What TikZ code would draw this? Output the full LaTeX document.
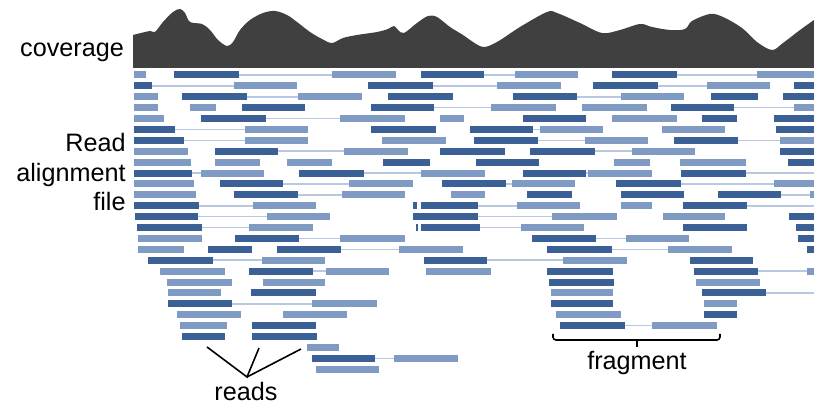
\documentclass[tikz,border=0pt]{standalone}
\usepackage{fontspec}
\setmainfont{Liberation Sans}
\definecolor{readdark}{RGB}{58,96,150}
\definecolor{readlight}{RGB}{128,155,195}
\definecolor{matecol}{RGB}{185,200,225}
\definecolor{covgray}{RGB}{64,64,64}
% one row of reads: type/start/end, row index #1
\newcommand{\readrow}[2]{%
  \foreach \c/\a/\b in {#2} {\draw[rd\c] (\a,{75+10.9*#1}) -- (\b,{75+10.9*#1});}}
\begin{document}
\begin{tikzpicture}[
    x=0.5pt, y=-0.5pt,
    rdD/.style={draw=readdark, line width=3.5pt},
    rdL/.style={draw=readlight, line width=3.5pt},
    rdM/.style={draw=matecol, line width=0.8pt},
    lbl/.style={font=\fontsize{12.6}{14.75}\selectfont, inner sep=0pt},
    pointer/.style={draw=black, line width=0.8pt},
]
\useasboundingbox[fill=white] (0,0) rectangle (814,416);

% coverage track
\fill[covgray] (133,68) -- plot[smooth, tension=0.55] coordinates {
  (133,35) (150,31) (155,32) (163,22) (173,12) (180,9) (185,13) (190,22)
  (202,24) (210,30) (218,40) (227,46) (233,42) (240,30) (250,20) (263,13)
  (275,11) (287,15) (297,22) (310,32) (322,39) (332,43) (343,38) (357,35)
  (377,32) (388,29) (394,26) (398,30) (404,33) (417,23) (428,16) (437,17)
  (450,27) (463,35) (470,40) (483,47) (497,42) (520,27) (547,12) (557,13)
  (580,23) (602,33) (620,30) (640,24) (652,27) (670,30) (685,29) (692,21)
  (710,14) (723,17) (742,28) (757,42) (772,50) (783,43) (800,30) (814,20)
} -- (814,68) -- cycle;

% read alignment rows
\readrow{0}{L/134/146, D/174/239, M/239/332, L/332/396, D/421/484, M/484/515, L/515/578, D/612/677, M/677/757, L/757/814}
\readrow{1}{D/134/152, M/152/234, L/234/297, D/368/433, M/433/497, L/497/561, D/593/658, M/658/707, L/707/770, D/794/814}
\readrow{2}{L/134/158, D/182/247, M/247/298, L/298/362, D/388/453, D/513/577, M/577/621, L/621/684, D/711/758, D/783/814}
\readrow{3}{L/134/158, L/190/216, D/242/305, D/371/434, M/434/491, L/491/556, L/582/647, D/671/734, M/734/794, L/794/814}
\readrow{4}{L/134/164, D/201/266, M/266/340, L/340/405, L/440/464, D/523/586, L/612/677, D/702/737, D/774/814}
\readrow{5}{D/134/175, M/175/245, L/245/308, D/371/436, D/470/533, M/533/540, L/540/603, L/662/725, D/776/814}
\readrow{6}{D/134/184, M/184/245, L/245/308, L/382/446, D/474/538, M/538/585, L/585/648, D/674/738, M/738/780, L/780/814}
\readrow{7}{L/134/188, D/215/278, M/278/344, L/344/408, D/440/505, D/530/595, M/595/632, L/632/695, D/780/814}
\readrow{8}{L/134/191, L/215/260, L/287/332, D/383/430, D/476/539, L/614/650, L/680/746, D/788/814}
\readrow{9}{D/134/192, M/192/201, L/201/264, D/299/364, M/364/421, L/421/485, D/523/586, M/586/588, L/588/652, D/681/746, M/746/814}
\readrow{10}{L/134/194, D/220/283, M/283/349, L/349/413, D/442/506, M/506/512, L/512/575, D/616/681, M/681/774, L/774/814}
\readrow{11}{L/134/196, D/234/298, M/298/342, L/342/405, L/451/485, D/527/572, D/621/684, D/718/781, M/781/810, L/810/814}
\readrow{12}{D/134/199, M/199/253, L/253/316, D/413/417, D/421/478, M/478/517, L/517/580, L/621/652, D/683/747, M/747/814}
\readrow{13}{D/135/198, M/198/267, L/267/330, D/413/478, M/478/552, L/552/617, L/663/725, D/789/814}
\readrow{14}{D/137/202, M/202/249, L/249/313, D/416/418, D/421/480, M/480/521, L/521/584, D/683/747, D/796/814}
\readrow{15}{L/138/202, D/235/299, M/299/340, L/340/405, D/532/596, M/596/626, L/626/689, D/798/814}
\readrow{16}{L/138/184, D/208/252, D/277/341, M/341/399, L/399/463, D/547/612, M/612/668, L/668/732, D/807/814}
\readrow{17}{D/148/213, M/213/262, L/262/325, D/424/487, M/487/563, L/563/627, D/690/753}
\readrow{18}{L/160/225, D/249/313, M/313/326, L/326/389, L/426/491, D/547/613, D/694/758, M/758/807, L/807/814}
\readrow{19}{L/167/232, L/263/325, D/549/614, L/696/760}
\readrow{20}{L/168/221, D/251/316, L/551/613, D/702/766, M/766/814}
\readrow{21}{D/168/232, M/232/312, L/312/377, D/551/613, L/704/737}
\readrow{22}{L/177/241, L/283/347, L/556/621, D/704/737}
\readrow{23}{L/180/227, D/252/316, D/560/625, M/625/652, L/652/717}
\readrow{24}{D/182/225, D/252/317}
\readrow{25}{L/307/339}
\readrow{26}{D/312/375, M/375/394, L/394/458}
\readrow{27}{L/316/379}

% labels
\node[lbl, anchor=base] (covlbl) at (72,57) {coverage};
\node[lbl, anchor=east, align=right] (alnlbl) at (126,172) {Read\\alignment\\file};
\node[lbl, anchor=base] (readslbl) at (246,401) {reads};
\node[lbl, anchor=base] (fraglbl) at (637,370) {fragment};

% pointers to reads
\coordinate (apex) at (247,377);
\coordinate (rdA) at (207,347);
\coordinate (rdB) at (259,348);
\coordinate (rdC) at (301,349);
\draw[pointer] (rdA) -- (apex) -- (rdB);
\draw[pointer] (apex) -- (rdC);

% fragment bracket
\coordinate (brL) at (553,334);
\coordinate (brM) at (637,340);
\coordinate (brR) at (720,334);
\coordinate (brT) at (637,347);
\draw[pointer, rounded corners=1.5pt] (brL) |- (brM) -| (brR);
\draw[pointer] (brM) -- (brT);
\end{tikzpicture}
\end{document}
